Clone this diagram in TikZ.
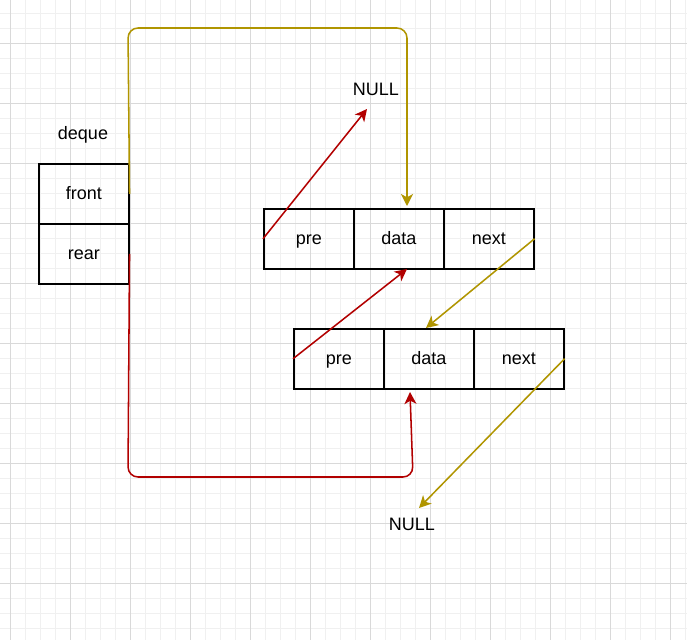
\documentclass[tikz,border=0pt]{standalone}
\usepackage{fontspec}
\setmainfont{Liberation Sans}
\usetikzlibrary{arrows.meta}
\definecolor{gold}{HTML}{B09500}
\definecolor{redc}{HTML}{B20000}
\definecolor{gminor}{HTML}{F0F0F0}
\definecolor{gmajor}{HTML}{D9D9D9}
\begin{document}
\begin{tikzpicture}[x=0.75pt,y=-0.75pt,
  cell/.style={draw=black,line width=1.15pt,minimum width=67.5pt,minimum height=45pt,inner sep=0pt,anchor=north west,font=\fontsize{13.5}{16}\selectfont,text height=11pt,text depth=1.7pt},
  lbl/.style={font=\fontsize{13.5}{16}\selectfont,inner sep=0pt,text height=11pt,text depth=1.7pt},
  tip/.style={-{Stealth[length=9pt,width=9pt,inset=2.5pt]}},
  goldline/.style={draw=gold,line width=1.15pt},
  redline/.style={draw=redc,line width=1.15pt}]
\useasboundingbox (0,0) rectangle (687,640);
\fill[white] (0,0) rectangle (687,640);
% grid
\foreach \x in {10,25,...,687} \draw[gminor,line width=0.75pt] (\x,0) -- (\x,640);
\foreach \y in {13,28,...,640} \draw[gminor,line width=0.75pt] (0,\y) -- (687,\y);
\foreach \x in {10,70,...,687} \draw[gmajor,line width=0.75pt] (\x,0) -- (\x,640);
\foreach \y in {43,103,...,640} \draw[gmajor,line width=0.75pt] (0,\y) -- (687,\y);
% deque
\node[lbl] (dq) at (83,133) {deque};
\node[cell] (front) at (38,163) {front};
\node[cell] (rear) at (38,223) {rear};
% node 1
\node[cell] (pre1) at (263,208) {pre};
\node[cell] (data1) at (353,208) {data};
\node[cell] (next1) at (443,208) {next};
% node 2
\node[cell] (pre2) at (293,328) {pre};
\node[cell] (data2) at (383,328) {data};
\node[cell] (next2) at (473,328) {next};
% NULLs
\node[lbl] (null1) at (376,89) {NULL};
\node[lbl] (null2) at (412,524) {NULL};
% endpoints
\coordinate (c1) at (407,206);
\coordinate (c2) at (410,392);
\coordinate (c3) at (367,109);
\coordinate (c4) at (407,269);
\coordinate (c5) at (426,328);
\coordinate (c6) at (419,508);
% connectors
\draw[goldline,tip,rounded corners=7.5pt] (front.east) -- (128,28) -- (407,28) -- (c1);
\draw[redline,tip,rounded corners=7.5pt] (rear.east) -- (128,477) -- (413,477) -- (c2);
\draw[redline,tip] (pre1.west) -- (c3);
\draw[redline,tip] (pre2.west) -- (c4);
\draw[goldline,tip] (next1.east) -- (c5);
\draw[goldline,tip] (next2.east) -- (c6);
\end{tikzpicture}
\end{document}
